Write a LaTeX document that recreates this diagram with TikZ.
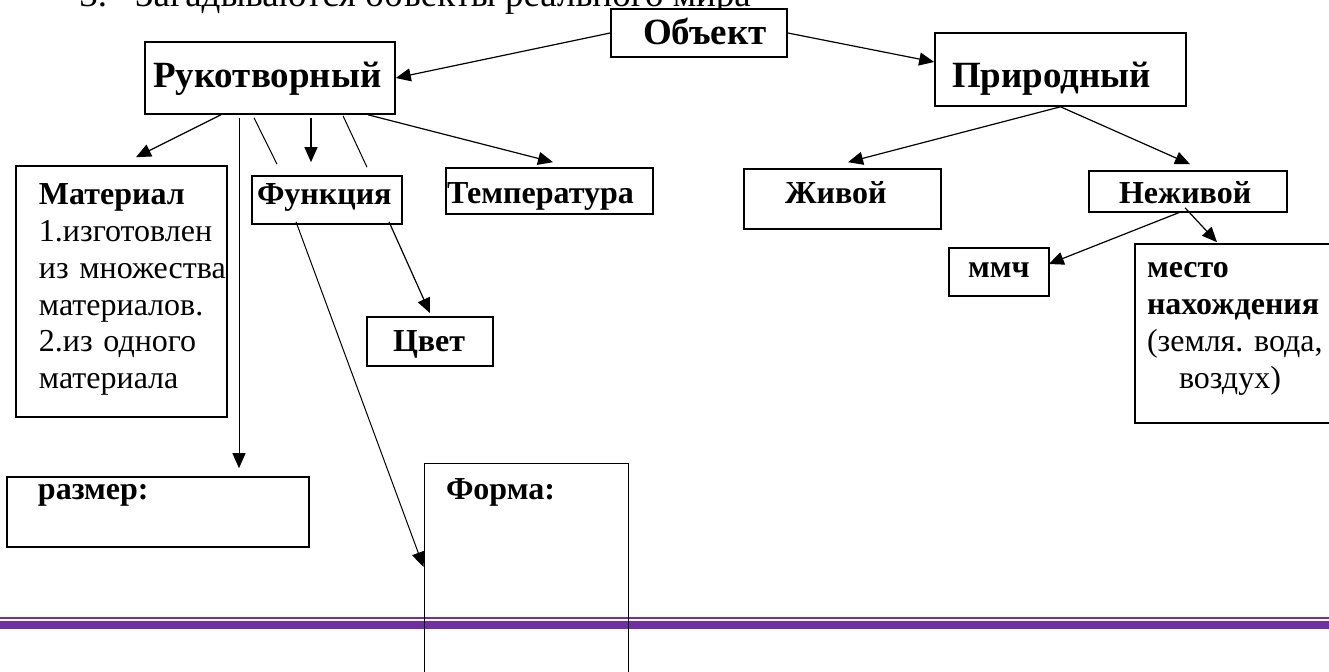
\documentclass[tikz,border=0pt]{standalone}
\usepackage{fontspec}
\setmainfont{Liberation Serif}
\usetikzlibrary{arrows.meta}
\definecolor{bandviolet}{HTML}{7030A0}
\frenchspacing

\begin{document}
\begin{tikzpicture}[x=0.5pt, y=-0.5pt,
    box/.style={draw, line width=0.8pt, inner ysep=0pt, align=left, anchor=base,
                font=\fontsize{16}{18.35}\selectfont\bfseries},
    big/.style={font=\fontsize{18.5}{22}\selectfont\bfseries},
    arr/.style={-{Triangle[length=7.5pt,width=6.5pt]}, line width=0.6pt},
    slim/.style={line width=0.5pt}]
    \useasboundingbox (0,0) rectangle (1329,672);
    \clip (0,0) rectangle (1329,672);
    % heading line, cut by the top edge
    \node[anchor=base west, inner sep=0pt, font=\fontsize{18.5}{22}\selectfont] (title) at (79,7)
        {3.\hspace*{14pt}Загадываются объекты реального мира};
    % page border
    \draw[bandviolet, line width=1pt] (0,617.7) -- (1329,617.7);
    \draw[bandviolet, line width=3.7pt] (0,625) -- (1329,625);
    % boxes
    \node[box, big, fill=white, text width=56pt, inner xsep=16pt, text height=18pt, text depth=6pt] (obj) at (699,45) {Объект};
    \node[box, big, text width=117pt, inner xsep=4pt, text height=23pt, text depth=13pt] (ruk) at (270,88) {Рукотворный};
    \node[box, big, text width=108.5pt, inner xsep=8.5pt, text height=27.5pt, text depth=9pt] (prir) at (1060.5,88) {Природный};
    \node[box, text width=82.5pt, inner xsep=11.5pt, text height=19.5pt, text depth=106pt] (mat) at (121.5,205)
        {Материал\\\mdseries 1.изготовлен\\из~множества\\материалов.\\2.из~одного\\материала};
    \node[box, text width=70pt, inner xsep=2.5pt, text height=14.5pt, text depth=9.5pt] (func) at (327,205) {Функция};
    \node[box, text width=102.5pt, inner xsep=0.5pt, text height=18pt, text depth=5pt] (temp) at (549.5,204) {Температура};
    \node[box, text width=57.5pt, inner xsep=20.5pt, text height=17.5pt, text depth=12.5pt] (zhiv) at (842.5,204) {Живой};
    \node[box, text width=69pt, inner xsep=15pt, text height=16.5pt, text depth=4pt] (nezh) at (1188,204) {Неживой};
    \node[box, text width=31pt, inner xsep=9.5pt, text height=15pt, text depth=9pt] (mmch) at (999,278) {ммч};
    \node[box, text width=93pt, inner xsep=6pt, text height=17pt, text depth=72.5pt] (mesto) at (1240,278)
        {место\\нахождения\\\mdseries(земля. вода,\\\hspace*{16pt}воздух)};
    \node[box, text width=37pt, inner xsep=13pt, text height=17.5pt, text depth=7pt] (cvet) at (430,352) {Цвет};
    \node[box, text width=120pt, inner xsep=15.5pt, text height=11.5pt, text depth=23.5pt] (razm) at (158,500) {размер:};
    \node[box, slim, text width=80pt, inner xsep=11pt, text height=18pt, text depth=100pt] (forma) at (526,500) {Форма:};
    % connectors
    \draw[arr] (obj.west) -- (ruk.east);
    \draw[arr] (obj.east) -- ([yshift=3.75pt]prir.west);
    \draw[arr] ([xshift=-24.5pt]ruk.south) -- ([xshift=7.25pt,yshift=4pt]mat.north);
    \draw[arr, slim] ([xshift=-15.5pt,yshift=-1.5pt]ruk.south) -- ([xshift=40.5pt,yshift=4pt]razm.north);
    \draw[slim] ([xshift=-8pt,yshift=-1.5pt]ruk.south) -- ([xshift=-25pt,yshift=5.5pt]func.north);
    \draw[arr] ([xshift=20.5pt,yshift=-1.5pt]ruk.south) -- ([xshift=-8pt,yshift=6.5pt]func.north);
    \draw[slim] ([xshift=36.5pt,yshift=-0.5pt]ruk.south) -- ([xshift=20pt,yshift=4pt]func.north);
    \draw[arr] ([xshift=49pt]ruk.south) -- ([xshift=1.75pt,yshift=2.5pt]temp.north);
    \draw[arr] (prir.south) -- ([xshift=2.75pt,yshift=3pt]zhiv.north);
    \draw[arr] (prir.south) -- ([xshift=1pt,yshift=3pt]nezh.north);
    \draw[arr] ([xshift=-3.5pt,yshift=0.5pt]nezh.south) -- ([xshift=-0.5pt,yshift=4pt]mmch.east);
    \draw[arr] ([xshift=-1.5pt,yshift=2.5pt]nezh.south) -- ([xshift=-11.5pt,yshift=0.5pt]mesto.north);
    \draw[arr] ([xshift=31pt,yshift=1.5pt]func.south) -- ([yshift=1.5pt]cvet.north);
    \draw[arr, slim] ([xshift=-15.5pt,yshift=1.5pt]func.south) -- ([yshift=7.5pt]forma.west);
\end{tikzpicture}
\end{document}
